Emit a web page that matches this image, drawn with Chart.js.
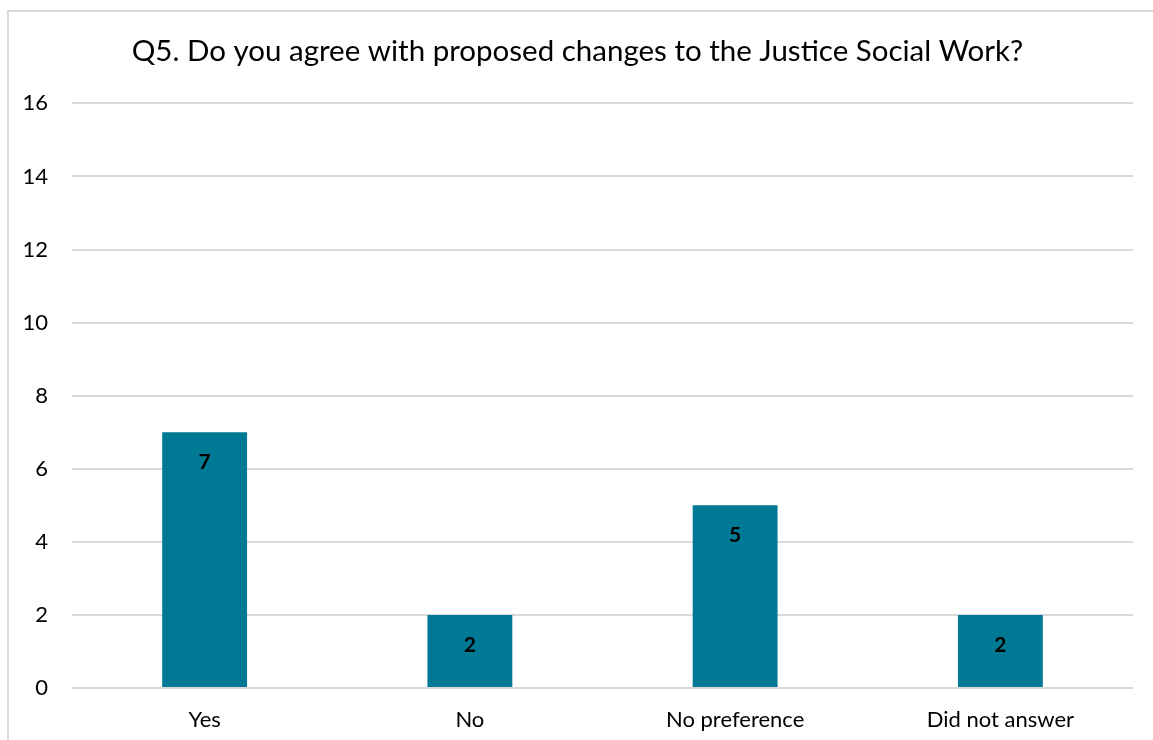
<!DOCTYPE html>
<html>
<head>
<meta charset="utf-8">
<script src="https://cdn.jsdelivr.net/npm/chart.js@4"></script>
<style>
    body { margin: 0; background: #fff; overflow: hidden; }
    #wrap { position: absolute; left: 0; top: 0; width: 1153px; height: 740px; }
    #frame { position: absolute; left: 7px; top: 10px; width: 1160px; height: 760px;
             border: 2px solid #d9d9d9; pointer-events: none; }
</style>
</head>
<body>
<div id="wrap"><canvas id="q5Chart" width="1153" height="740"></canvas></div>
<div id="frame"></div>
<script>
var categories = ['Yes', 'No', 'No preference', 'Did not answer'];
var responses = [7, 2, 5, 2];
var yTicks = [0, 2, 4, 6, 8, 10, 12, 14, 16];

var FONT = 'Lato, "Open Sans", sans-serif';

// draw the value inside each bar near its top
var barValues = {
    id: 'barValues',
    afterDatasetsDraw: function(chart) {
        var ctx = chart.ctx;
        var meta = chart.getDatasetMeta(0);
        ctx.save();
        ctx.font = 'bold 21px ' + FONT;
        ctx.fillStyle = '#000';
        ctx.textAlign = 'center';
        ctx.textBaseline = 'middle';
        meta.data.forEach(function(bar, i) {
            ctx.fillText(responses[i], bar.x, bar.y + 30);
        });
        ctx.restore();
    }
};

var ctx = document.getElementById('q5Chart').getContext('2d');
var q5Chart = new Chart(ctx, {
    type: 'bar',
    data: {
        labels: categories,
        datasets: [{
            data: responses,
            backgroundColor: '#007A94',
            categoryPercentage: 1,
            barPercentage: 0.32
        }]
    },
    options: {
        responsive: false,
        animation: false,
        layout: { padding: { left: 22, right: 20, top: 0, bottom: 0 } },
        plugins: {
            legend: { display: false },
            tooltip: { enabled: false },
            title: {
                display: true,
                text: 'Q5. Do you agree with proposed changes to the Justice Social Work?',
                color: '#000',
                font: { family: FONT, size: 29.5, weight: 'normal' },
                padding: { top: 34, bottom: 34 }
            }
        },
        scales: {
            x: {
                grid: { display: false },
                border: { display: false },
                ticks: { color: '#000', padding: 11, font: { family: FONT, size: 22 } },
                afterFit: function(scale) { scale.height = 52; }
            },
            y: {
                min: 0,
                max: 16,
                afterBuildTicks: function(scale) {
                    scale.ticks = yTicks.map(function(v) { return { value: v }; });
                },
                grid: { color: '#d9d9d9', lineWidth: 2, drawTicks: false },
                border: { display: false },
                ticks: { color: '#000', padding: 24, font: { family: FONT, size: 22 } },
                afterFit: function(scale) { scale.width = 50; }
            }
        }
    },
    plugins: [barValues]
});
</script>
</body>
</html>
